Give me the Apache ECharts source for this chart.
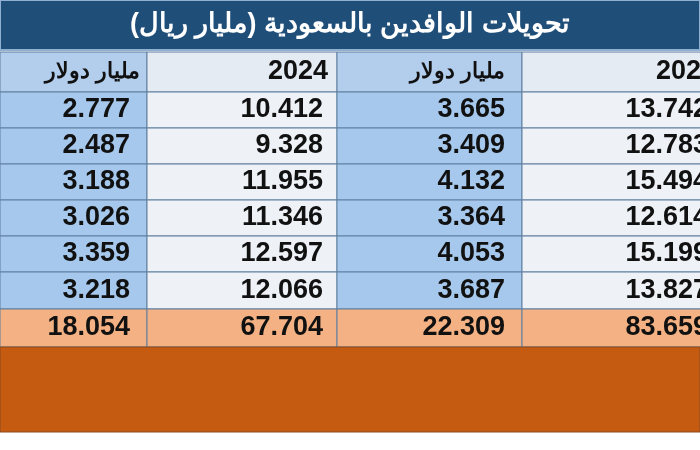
<!DOCTYPE html>
<html><head><meta charset="utf-8">
<script src="https://cdn.jsdelivr.net/npm/echarts@6/dist/echarts.min.js"></script>
<style>html,body{margin:0;padding:0;background:#fff}#c{width:700px;height:450px}</style>
</head><body><div id="c"></div>
<script>
const title = 'تحويلات الوافدين بالسعودية (مليار ريال)';
const headers = ['مليار دولار', '2024', 'مليار دولار', '2025'];
const usd2024 = ['2.777','2.487','3.188','3.026','3.359','3.218'];
const sar2024 = ['10.412','9.328','11.955','11.346','12.597','12.066'];
const usd2025 = ['3.665','3.409','4.132','3.364','4.053','3.687'];
const sar2025 = ['13.742','12.783','15.494','12.614','15.199','13.827'];
const totals = ['18.054','67.704','22.309','83.659'];

// layout (not data)
const colEdges = [0, 147, 337, 522, 720];
const textRight = [130, 323, 505, 708];
const headerRight = [140, 328, 505, 716];
const rowEdges = [52, 92, 128, 164, 200, 236, 272, 309, 347];
const barEdges = [347, 432];

const cols = [usd2024, sar2024, usd2025, sar2025];
const cells = [];
headers.forEach((h, c) => cells.push([c, 0, h, 'h']));
for (let r = 0; r < 6; r++) for (let c = 0; c < 4; c++) cells.push([c, r + 1, cols[c][r], 'd']);
totals.forEach((t, c) => cells.push([c, 7, t, 't']));

const chart = echarts.init(document.getElementById('c'));
chart.setOption({
  animation: false,
  grid: {left: 0, right: 0, top: 0, bottom: 0},
  xAxis: {type: 'value', min: 0, max: 700, show: false},
  yAxis: {type: 'value', min: 0, max: 450, inverse: true, show: false},
  series: [{
    type: 'custom',
    clip: true,
    data: cells,
    renderItem: function (params, api) {
      const c = api.value(0), r = api.value(1);
      const kind = cells[params.dataIndex][3];
      const text = cells[params.dataIndex][2];
      const p0 = api.coord([colEdges[c], rowEdges[r]]);
      const p1 = api.coord([colEdges[c + 1], rowEdges[r + 1]]);
      const tr = api.coord([kind === 'h' ? headerRight[c] : textRight[c], 0]);
      let fill;
      if (kind === 't') fill = '#f4b183';
      else if (kind === 'h') fill = (c % 2 === 0) ? '#b3cdec' : '#e4ebf3';
      else fill = (c % 2 === 0) ? '#a6c8ec' : '#eef1f6';
      return {
        type: 'group',
        children: [
          {type: 'rect', shape: {x: p0[0], y: p0[1], width: p1[0] - p0[0], height: p1[1] - p0[1]},
           style: {fill: fill, stroke: '#5f7f9f', lineWidth: 1}},
          {type: 'text', style: {x: tr[0], y: (p0[1] + p1[1]) / 2, text: text,
            align: 'right', verticalAlign: 'middle', fill: '#111',
            font: kind === 'h' && c % 2 === 0 ? 'bold 22px "Liberation Sans", Arial' : 'bold 27px "Liberation Sans", Arial'}}
        ]
      };
    }
  }, {
    type: 'custom',
    data: [[0]],
    renderItem: function (params, api) {
      const a = api.coord([0, 0]), b = api.coord([700, 50]);
      const c0 = api.coord([0, barEdges[0]]), c1 = api.coord([700, barEdges[1]]);
      return {type: 'group', children: [
        {type: 'rect', shape: {x: a[0], y: a[1], width: b[0] - a[0], height: b[1] - a[1]},
         style: {fill: '#1f4e79', stroke: '#8fb0d0', lineWidth: 2}},
        {type: 'text', style: {x: (a[0] + b[0]) / 2, y: (a[1] + b[1]) / 2, text: title,
          align: 'center', verticalAlign: 'middle', fill: '#fff', font: 'bold 27px "Liberation Sans", Arial'}},
        {type: 'rect', shape: {x: c0[0], y: c0[1], width: c1[0] - c0[0], height: c1[1] - c0[1]},
         style: {fill: '#c55a11', stroke: '#8a4a20', lineWidth: 1}}
      ]};
    }
  }]
});
</script></body></html>
